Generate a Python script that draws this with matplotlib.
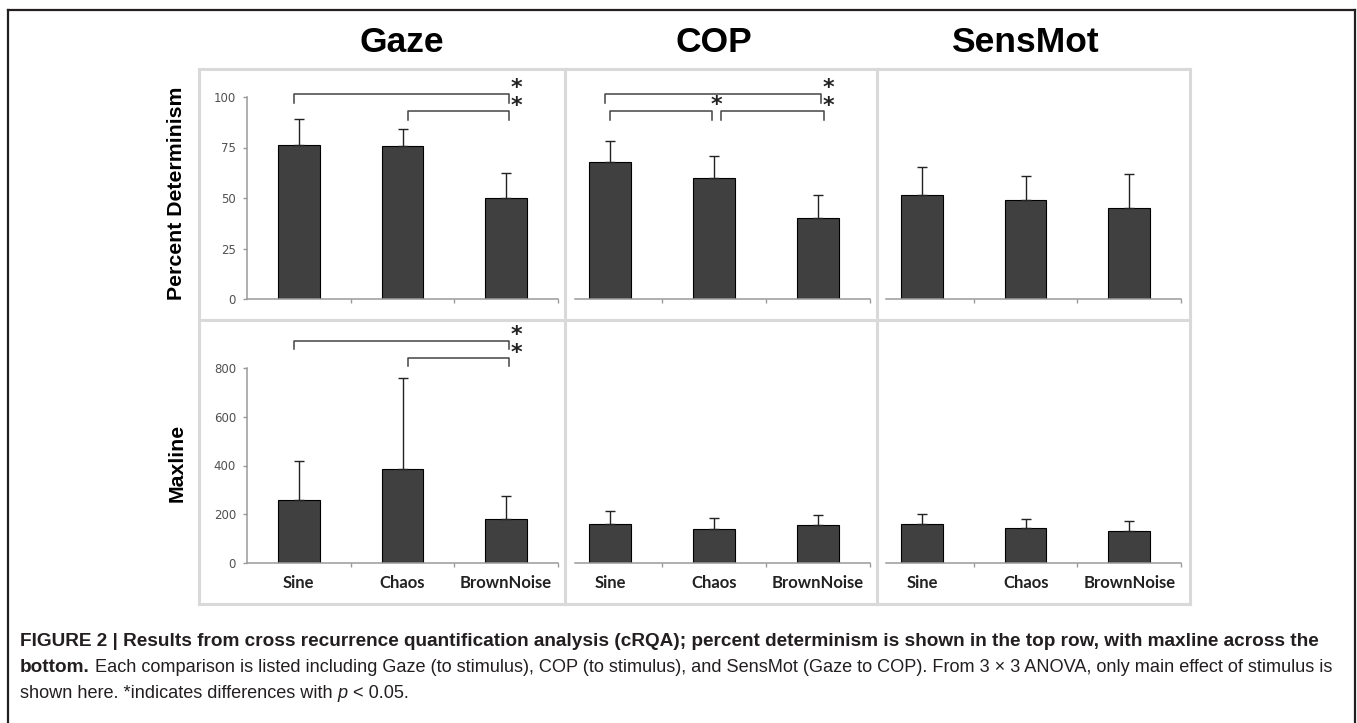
import numpy as np
import matplotlib.pyplot as plt
from matplotlib.lines import Line2D

W, H = 1357, 723

# ---- data ----
stimuli = ['Sine', 'Chaos', 'BrownNoise']
comparisons = ['Gaze', 'COP', 'SensMot']

det_mean = {'Gaze': [76, 75.5, 50], 'COP': [68, 60, 40], 'SensMot': [51.5, 49, 45]}
det_sd = {'Gaze': [13, 8.5, 12.5], 'COP': [10, 11, 11.5], 'SensMot': [14, 12, 17]}

maxline_mean = {'Gaze': [258, 385, 182], 'COP': [160, 140, 156], 'SensMot': [160, 144, 131]}
maxline_sd = {'Gaze': [160, 375, 93], 'COP': [53, 45, 41], 'SensMot': [41, 37, 41]}

# significant pairs: (from, to, level)
det_sig = {'Gaze': [(0, 2, 0), (1, 2, 1)], 'COP': [(0, 2, 0), (0, 1, 1), (1, 2, 1)], 'SensMot': []}
maxline_sig = {'Gaze': [(0, 2, 0), (1, 2, 1)], 'COP': [], 'SensMot': []}

caption_1 = ('FIGURE 2 | Results from cross recurrence quantification analysis (cRQA); '
             'percent determinism is shown in the top row, with maxline across the')
caption_2a = 'bottom.'
caption_2b = (' Each comparison is listed including Gaze (to stimulus), COP (to stimulus), and SensMot '
              '(Gaze to COP). From 3 \u00d7 3 ANOVA, only main effect of stimulus is')
caption_3a = 'shown here. *indicates differences with '
caption_3b = 'p'
caption_3c = ' < 0.05.'

BAR = '#404040'
AXC = '#9a9a9a'
GRID = '#d9d9d9'


def box(x0, y0, x1, y1):
    return [x0 / W, 1 - y1 / H, (x1 - x0) / W, (y1 - y0) / H]


fig = plt.figure(figsize=(W / 100, H / 100), dpi=100)

# x extents (pixels) of each column's axis and the data value at its left end
col_px = {'Gaze': (247, 558, -0.5), 'COP': (575, 870, -0.337), 'SensMot': (886, 1181, -0.348)}
rows = [
    dict(y=(97, 299), ylim=(0, 100), ticks=[0, 25, 50, 75, 100], mean=det_mean, sd=det_sd,
         sig=det_sig, levels=[101.5, 93], drop=4.5, labels=False),
    dict(y=(368, 563), ylim=(0, 800), ticks=[0, 200, 400, 600, 800], mean=maxline_mean, sd=maxline_sd,
         sig=maxline_sig, levels=[911, 841], drop=33, labels=True),
]

star_kw = dict(fontsize=16, fontweight='bold', color='#222222', clip_on=False,
               family='DejaVu Sans')

x = np.arange(len(stimuli))
for r in rows:
    for name in comparisons:
        x0, x1, left = col_px[name]
        ax = fig.add_axes(box(x0, r['y'][0], x1, r['y'][1]))
        ax.bar(x, r['mean'][name], width=0.4, color=BAR, edgecolor='black', linewidth=0.8, zorder=2)
        ax.errorbar(x, r['mean'][name], yerr=[np.zeros(3), r['sd'][name]], fmt='none',
                    ecolor='#222222', elinewidth=1.0, capsize=3.5, capthick=1.0, zorder=3)
        ax.set_xlim(left, 2.5)
        ax.set_ylim(*r['ylim'])
        for s in ['top', 'right']:
            ax.spines[s].set_visible(False)
        ax.spines['bottom'].set_color(AXC)
        ax.spines['bottom'].set_linewidth(1.1)
        ax.set_xticks([0.5, 1.5, 2.5])
        ax.set_xticklabels([])
        ax.set_xticks(x, minor=True)
        if r['labels']:
            ax.set_xticklabels(stimuli, minor=True, fontfamily='Lato', fontweight='bold',
                               fontsize=12, color='#222222')
        ax.tick_params(axis='x', which='major', length=3, color=AXC, width=1)
        ax.tick_params(axis='x', which='minor', length=0, pad=8.5)
        if name == 'Gaze':
            ax.spines['left'].set_color(AXC)
            ax.spines['left'].set_linewidth(1.1)
            ax.set_yticks(r['ticks'])
            ax.tick_params(axis='y', length=3, color=AXC, width=1, pad=5, labelsize=8.5,
                           labelcolor='#505050')
        else:
            ax.spines['left'].set_visible(False)
            ax.set_yticks([])
        ax.patch.set_alpha(0)

        # significance brackets
        span = r['ylim'][1] / (r['y'][1] - r['y'][0])  # data units per pixel
        for i, j, lvl in r['sig'][name]:
            y_hi = r['levels'][lvl]
            y_lo = y_hi - r['drop']
            xa = i - 0.05 if i == 0 else i + 0.05
            xb = j + 0.03 if j == 2 else j - 0.03
            if name == 'COP' and lvl == 1:
                xa = i + 0.07 if i == 1 else i
                xb = j - 0.02 if j == 1 else j + 0.06
            ax.plot([xa, xa, xb, xb], [y_lo, y_hi, y_hi, y_lo], color='#444444', lw=1.1,
                    clip_on=False, zorder=4)
        if r['sig'][name]:
            # stacked stars at the right end, one per bracket level
            y_mid = (r['levels'][0] + r['levels'][1]) / 2 + 5.5 * span
            ax.text(2.1, y_mid, '*\n*', ha='center', va='center', linespacing=0.85, **star_kw)
        if name == 'COP' and not r['labels']:
            ax.text(1.02, r['levels'][1] + 6 * span, '*', ha='center', va='center', **star_kw)

# column titles
for name, cx in zip(comparisons, [402, 714, 1025]):
    fig.text(cx / W, 1 - 43 / H, name, ha='center', va='center', fontsize=25.5,
             fontweight='bold', family='Liberation Sans')

# row labels
fig.text(177 / W, 1 - 193 / H, 'Percent Determinism', rotation=90, ha='center', va='center',
         fontsize=15.3, fontweight='bold', family='Liberation Sans')
fig.text(177 / W, 1 - 463 / H, 'Maxline', rotation=90, ha='center', va='center',
         fontsize=15.3, fontweight='bold', family='Liberation Sans')

# light grey panel frame
lw_grid = 2.2
for (xa, ya, xb, yb) in [(199, 69, 1190, 69), (199, 604, 1190, 604), (199, 69, 199, 604),
                         (1190, 69, 1190, 604), (199, 320, 1190, 320), (565, 69, 565, 604),
                         (877, 69, 877, 604)]:
    fig.add_artist(Line2D([xa / W, xb / W], [1 - ya / H, 1 - yb / H], color=GRID, lw=lw_grid))

# outer black frame (open at the bottom)
for (xa, ya, xb, yb) in [(8, 10, 1355, 10), (8, 10, 8, 723), (1355, 10, 1355, 723)]:
    fig.add_artist(Line2D([xa / W, xb / W], [1 - ya / H, 1 - yb / H], color='#231f20', lw=1.6))

# caption
cap = fig.add_axes([0, 0, 1, 1])
cap.axis('off')
bfont = dict(family='Liberation Sans', fontsize=13.7, color='#231f20', fontweight='bold')
cfont = dict(family='Liberation Sans', fontsize=13.1, color='#231f20')
y1, y2, y3 = 1 - 646 / H, 1 - 672 / H, 1 - 698 / H
cap.text(20 / W, y1, caption_1, va='baseline', transform=fig.transFigure, **bfont)
t = cap.text(20 / W, y2, caption_2a, va='baseline', transform=fig.transFigure, **bfont)
cap.annotate(caption_2b, xy=(1, y2), xycoords=(t, 'figure fraction'), va='baseline', **cfont)
t = cap.text(20 / W, y3, caption_3a, va='baseline', transform=fig.transFigure, **cfont)
t = cap.annotate(caption_3b, xy=(1, y3), xycoords=(t, 'figure fraction'), va='baseline',
                 fontstyle='italic', **cfont)
cap.annotate(caption_3c, xy=(1, y3), xycoords=(t, 'figure fraction'), va='baseline', **cfont)

fig.savefig('out.png', dpi=100)
